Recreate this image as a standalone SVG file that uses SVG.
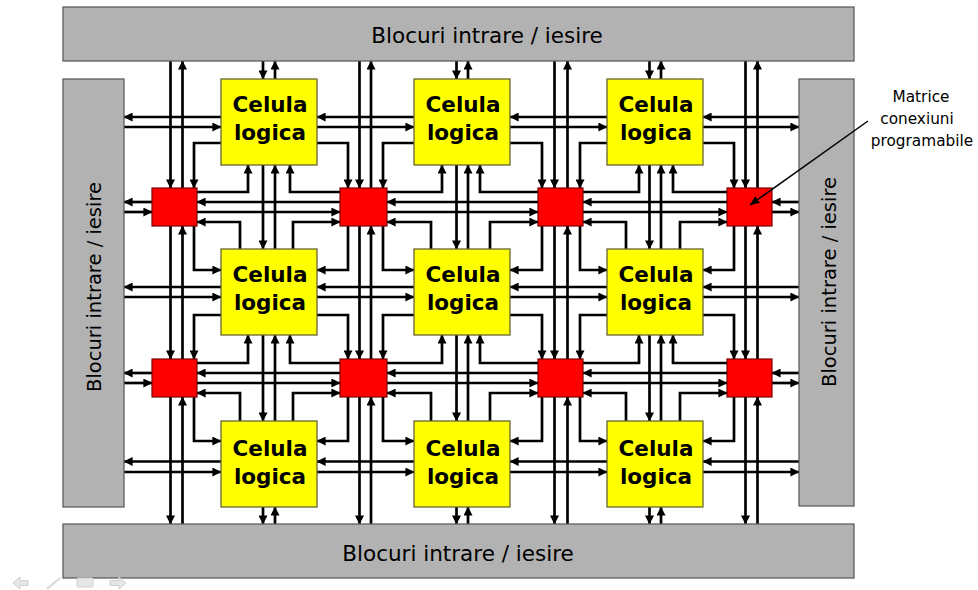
<svg xmlns="http://www.w3.org/2000/svg" width="978" height="590" viewBox="0 0 978 590">
<style>
.bar{fill:#b2b2b2;stroke:#5f5f5f;stroke-width:1.3}
.cell{fill:#ffff00;stroke:#666633;stroke-width:1.3}
.mux{fill:#ff0000;stroke:#7a0000;stroke-width:1.2}
.w line,.w path{fill:none;stroke:#000;stroke-width:2.7;marker-end:url(#ah)}
.lbl{font-family:"DejaVu Sans",Verdana,sans-serif;font-weight:bold;font-size:21.5px;text-anchor:middle;fill:#000}
.io{font-family:"DejaVu Sans",Verdana,sans-serif;font-size:21.5px;text-anchor:middle;fill:#000}
.ios{font-family:"DejaVu Sans",Verdana,sans-serif;font-size:19.5px;text-anchor:middle;fill:#000}
.note{font-family:"DejaVu Sans",Verdana,sans-serif;font-size:15.3px;text-anchor:middle;fill:#000}
.nav{fill:#e6e6e6;stroke:#d0d0d0;stroke-width:1}
</style>
<defs>
<marker id="ah" markerUnits="userSpaceOnUse" viewBox="0 0 9 9" markerWidth="9" markerHeight="9" refX="8.6" refY="4.5" orient="auto"><path d="M0,0 L9,4.5 L0,9 z" fill="#000"/></marker>
<marker id="ah2" markerUnits="userSpaceOnUse" viewBox="0 0 10 8" markerWidth="10" markerHeight="8" refX="9.5" refY="4" orient="auto"><path d="M0,0 L10,4 L0,8 z" fill="#000"/></marker>
</defs>
<rect width="978" height="590" fill="#fff"/>

<g id="connectors" class="w">
<!-- red column vertical pairs -->
<line x1="170.5" y1="61" x2="170.5" y2="188"/><line x1="170.5" y1="226" x2="170.5" y2="359"/><line x1="170.5" y1="397" x2="170.5" y2="524"/>
<line x1="182.5" y1="188" x2="182.5" y2="61"/><line x1="182.5" y1="359" x2="182.5" y2="226"/><line x1="182.5" y1="524" x2="182.5" y2="397"/>
<line x1="359.5" y1="61" x2="359.5" y2="188"/><line x1="359.5" y1="226" x2="359.5" y2="359"/><line x1="359.5" y1="397" x2="359.5" y2="524"/>
<line x1="371" y1="188" x2="371" y2="61"/><line x1="371" y1="359" x2="371" y2="226"/><line x1="371" y1="524" x2="371" y2="397"/>
<line x1="554.5" y1="61" x2="554.5" y2="188"/><line x1="554.5" y1="226" x2="554.5" y2="359"/><line x1="554.5" y1="397" x2="554.5" y2="524"/>
<line x1="567.5" y1="188" x2="567.5" y2="61"/><line x1="567.5" y1="359" x2="567.5" y2="226"/><line x1="567.5" y1="524" x2="567.5" y2="397"/>
<line x1="745.5" y1="61" x2="745.5" y2="188"/><line x1="745.5" y1="226" x2="745.5" y2="359"/><line x1="745.5" y1="397" x2="745.5" y2="524"/>
<line x1="757.5" y1="188" x2="757.5" y2="61"/><line x1="757.5" y1="359" x2="757.5" y2="226"/><line x1="757.5" y1="524" x2="757.5" y2="397"/>
<!-- cell column vertical pairs -->
<line x1="263" y1="61" x2="263" y2="79"/><line x1="263" y1="165" x2="263" y2="249"/><line x1="263" y1="335" x2="263" y2="421"/><line x1="263" y1="507" x2="263" y2="524"/>
<line x1="275" y1="79" x2="275" y2="61"/><line x1="275" y1="249" x2="275" y2="165"/><line x1="275" y1="421" x2="275" y2="335"/><line x1="275" y1="524" x2="275" y2="507"/>
<line x1="456.5" y1="61" x2="456.5" y2="79"/><line x1="456.5" y1="165" x2="456.5" y2="249"/><line x1="456.5" y1="335" x2="456.5" y2="421"/><line x1="456.5" y1="507" x2="456.5" y2="524"/>
<line x1="468" y1="79" x2="468" y2="61"/><line x1="468" y1="249" x2="468" y2="165"/><line x1="468" y1="421" x2="468" y2="335"/><line x1="468" y1="524" x2="468" y2="507"/>
<line x1="649.5" y1="61" x2="649.5" y2="79"/><line x1="649.5" y1="165" x2="649.5" y2="249"/><line x1="649.5" y1="335" x2="649.5" y2="421"/><line x1="649.5" y1="507" x2="649.5" y2="524"/>
<line x1="661" y1="79" x2="661" y2="61"/><line x1="661" y1="249" x2="661" y2="165"/><line x1="661" y1="421" x2="661" y2="335"/><line x1="661" y1="524" x2="661" y2="507"/>
<!-- red row horizontal pairs -->
<line x1="152" y1="202" x2="124" y2="202"/><line x1="340" y1="202" x2="197" y2="202"/><line x1="538" y1="202" x2="387" y2="202"/><line x1="727" y1="202" x2="583" y2="202"/><line x1="799" y1="202" x2="772" y2="202"/>
<line x1="124" y1="212" x2="152" y2="212"/><line x1="197" y1="212" x2="340" y2="212"/><line x1="387" y1="212" x2="538" y2="212"/><line x1="583" y1="212" x2="727" y2="212"/><line x1="772" y1="212" x2="799" y2="212"/>
<line x1="152" y1="373" x2="124" y2="373"/><line x1="340" y1="373" x2="197" y2="373"/><line x1="538" y1="373" x2="387" y2="373"/><line x1="727" y1="373" x2="583" y2="373"/><line x1="799" y1="373" x2="772" y2="373"/>
<line x1="124" y1="383" x2="152" y2="383"/><line x1="197" y1="383" x2="340" y2="383"/><line x1="387" y1="383" x2="538" y2="383"/><line x1="583" y1="383" x2="727" y2="383"/><line x1="772" y1="383" x2="799" y2="383"/>
<!-- cell row horizontal pairs -->
<line x1="221" y1="117" x2="124" y2="117"/><line x1="414" y1="117" x2="317" y2="117"/><line x1="607" y1="117" x2="510" y2="117"/><line x1="799" y1="117" x2="703" y2="117"/>
<line x1="124" y1="127" x2="221" y2="127"/><line x1="317" y1="127" x2="414" y2="127"/><line x1="510" y1="127" x2="607" y2="127"/><line x1="703" y1="127" x2="799" y2="127"/>
<line x1="221" y1="287" x2="124" y2="287"/><line x1="414" y1="287" x2="317" y2="287"/><line x1="607" y1="287" x2="510" y2="287"/><line x1="799" y1="287" x2="703" y2="287"/>
<line x1="124" y1="297" x2="221" y2="297"/><line x1="317" y1="297" x2="414" y2="297"/><line x1="510" y1="297" x2="607" y2="297"/><line x1="703" y1="297" x2="799" y2="297"/>
<line x1="221" y1="461.5" x2="124" y2="461.5"/><line x1="414" y1="461.5" x2="317" y2="461.5"/><line x1="607" y1="461.5" x2="510" y2="461.5"/><line x1="799" y1="461.5" x2="703" y2="461.5"/>
<line x1="124" y1="472" x2="221" y2="472"/><line x1="317" y1="472" x2="414" y2="472"/><line x1="510" y1="472" x2="607" y2="472"/><line x1="703" y1="472" x2="799" y2="472"/>
<!-- bent links, matrix row 0 -->
<path d="M221,143 H194 V188"/><path d="M194,226 V270 H221"/><path d="M197,192 H248 V165"/><path d="M240,249 V222 H197"/>
<path d="M317,143 H348 V188"/><path d="M414,143 H383 V188"/><path d="M348,226 V270 H317"/><path d="M383,226 V270 H414"/>
<path d="M340,192 H290 V165"/><path d="M387,192 H442 V165"/><path d="M293,249 V222 H340"/><path d="M431,249 V222 H387"/>
<path d="M510,143 H542 V188"/><path d="M607,143 H580 V188"/><path d="M542,226 V270 H510"/><path d="M580,226 V270 H607"/>
<path d="M538,192 H480 V165"/><path d="M583,192 H639 V165"/><path d="M490,249 V222 H538"/><path d="M626,249 V222 H583"/>
<path d="M703,143 H734 V188"/><path d="M734,226 V270 H703"/><path d="M727,192 H673 V165"/><path d="M680,249 V222 H727"/>
<!-- bent links, matrix row 1 -->
<path d="M221,315 H194 V359"/><path d="M194,397 V441 H221"/><path d="M197,363 H248 V335"/><path d="M240,421 V393 H197"/>
<path d="M317,315 H348 V359"/><path d="M414,315 H383 V359"/><path d="M348,397 V441 H317"/><path d="M383,397 V441 H414"/>
<path d="M340,363 H290 V335"/><path d="M387,363 H442 V335"/><path d="M293,421 V393 H340"/><path d="M431,421 V393 H387"/>
<path d="M510,315 H542 V359"/><path d="M607,315 H580 V359"/><path d="M542,397 V441 H510"/><path d="M580,397 V441 H607"/>
<path d="M538,363 H480 V335"/><path d="M583,363 H639 V335"/><path d="M490,421 V393 H538"/><path d="M626,421 V393 H583"/>
<path d="M703,315 H734 V359"/><path d="M734,397 V441 H703"/><path d="M727,363 H673 V335"/><path d="M680,421 V393 H727"/>
</g>

<g id="io-top"><rect class="bar" x="63" y="7" width="791" height="54"/><text class="io" x="487" y="42.5">Blocuri intrare / iesire</text></g>
<g id="io-bottom"><rect class="bar" x="63" y="524" width="791" height="54"/><text class="io" x="458" y="560.5">Blocuri intrare / iesire</text></g>
<g id="io-left"><rect class="bar" x="63" y="79" width="61" height="428"/><text class="ios" transform="translate(101,287) rotate(-90)">Blocuri intrare / iesire</text></g>
<g id="io-right"><rect class="bar" x="799" y="79" width="55" height="427"/><text class="ios" transform="translate(836,282) rotate(-90)">Blocuri intrare / iesire</text></g>

<g id="cell-0-0"><rect class="cell" x="221" y="79" width="96" height="86"/><text class="lbl" x="270" y="112">Celula</text><text class="lbl" x="270" y="140">logica</text></g>
<g id="cell-0-1"><rect class="cell" x="414" y="79" width="96" height="86"/><text class="lbl" x="463" y="112">Celula</text><text class="lbl" x="463" y="140">logica</text></g>
<g id="cell-0-2"><rect class="cell" x="607" y="79" width="96" height="86"/><text class="lbl" x="656" y="112">Celula</text><text class="lbl" x="656" y="140">logica</text></g>
<g id="cell-1-0"><rect class="cell" x="221" y="249" width="96" height="86"/><text class="lbl" x="270" y="282">Celula</text><text class="lbl" x="270" y="310">logica</text></g>
<g id="cell-1-1"><rect class="cell" x="414" y="249" width="96" height="86"/><text class="lbl" x="463" y="282">Celula</text><text class="lbl" x="463" y="310">logica</text></g>
<g id="cell-1-2"><rect class="cell" x="607" y="249" width="96" height="86"/><text class="lbl" x="656" y="282">Celula</text><text class="lbl" x="656" y="310">logica</text></g>
<g id="cell-2-0"><rect class="cell" x="221" y="421" width="96" height="86"/><text class="lbl" x="270" y="456">Celula</text><text class="lbl" x="270" y="484">logica</text></g>
<g id="cell-2-1"><rect class="cell" x="414" y="421" width="96" height="86"/><text class="lbl" x="463" y="456">Celula</text><text class="lbl" x="463" y="484">logica</text></g>
<g id="cell-2-2"><rect class="cell" x="607" y="421" width="96" height="86"/><text class="lbl" x="656" y="456">Celula</text><text class="lbl" x="656" y="484">logica</text></g>

<g id="mux-0-0"><rect class="mux" x="152" y="188" width="45" height="38"/></g>
<g id="mux-0-1"><rect class="mux" x="340" y="188" width="47" height="38"/></g>
<g id="mux-0-2"><rect class="mux" x="538" y="188" width="45" height="38"/></g>
<g id="mux-0-3"><rect class="mux" x="727" y="188" width="45" height="38"/></g>
<g id="mux-1-0"><rect class="mux" x="152" y="359" width="45" height="38"/></g>
<g id="mux-1-1"><rect class="mux" x="340" y="359" width="47" height="38"/></g>
<g id="mux-1-2"><rect class="mux" x="538" y="359" width="45" height="38"/></g>
<g id="mux-1-3"><rect class="mux" x="727" y="359" width="45" height="38"/></g>

<g id="annotation">
<text class="note" x="921" y="102">Matrice</text>
<text class="note" x="917" y="124">conexiuni</text>
<text class="note" x="922" y="146">programabile</text>
<line x1="868" y1="121" x2="750" y2="205" stroke="#000" stroke-width="1.5" marker-end="url(#ah2)"/>
</g>

<g id="nav">
<path class="nav" d="M13,583 L20,577 L20,580.5 L28,580.5 L28,585.5 L20,585.5 L20,589 Z"/>
<path d="M47,589 L60,578" stroke="#d8d8d8" stroke-width="2" fill="none"/>
<rect class="nav" x="77" y="578" width="16" height="9" rx="1"/>
<path class="nav" d="M126,583 L119,577 L119,580.5 L110,580.5 L110,585.5 L119,585.5 L119,589 Z"/>
</g>
</svg>
